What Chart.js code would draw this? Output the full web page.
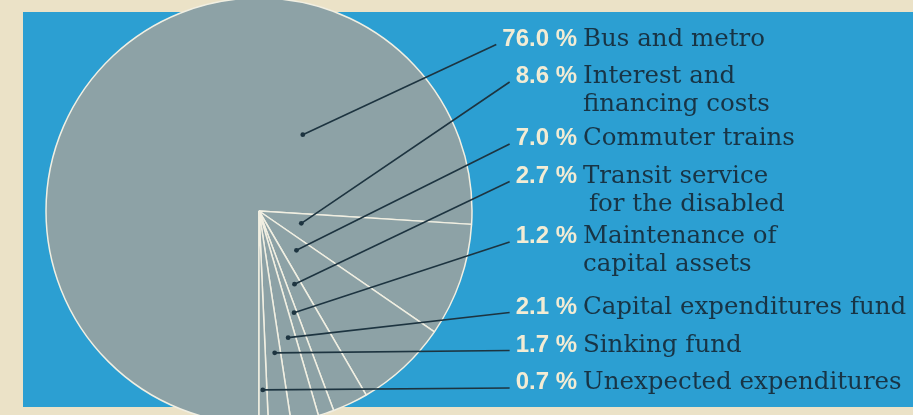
<!DOCTYPE html>
<html><head><meta charset="utf-8">
<script src="https://cdn.jsdelivr.net/npm/chart.js@4"></script>
<style>
html,body{margin:0;padding:0;background:#ebe2c7;}
#wrap{position:relative;width:913px;height:415px;overflow:hidden;background:#ebe2c7;}
#panel{position:absolute;left:23px;top:12px;width:890px;height:395px;background:#2c9fd2;}
#c{position:absolute;left:0;top:0;}
</style></head><body>
<div id="wrap"><div id="panel"></div><canvas id="c" width="913" height="415"></canvas></div>
<script>
// ---- data ----
const categories = [
  ['Bus and metro'],
  ['Interest and', 'financing costs'],
  ['Commuter trains'],
  ['Transit service', 'for the disabled'],
  ['Maintenance of', 'capital assets'],
  ['Capital expenditures fund'],
  ['Sinking fund'],
  ['Unexpected expenditures']
];
const shares = [76.0, 8.6, 7.0, 2.7, 1.2, 2.1, 1.7, 0.7];
const shareLabels = shares.map(v => v.toFixed(1) + ' %');

// ---- layout / style ----
const geo = { cx: 259, cy: 211, r: 213 };
const labelLayout = {
  pctRight: 577, textLeft: 583, lineGap: 28,
  baselines: [45.5, 83, 145, 182.5, 243, 313.5, 351.5, 389],
  indent2: [0, 0, 0, 6, 0, 0, 0, 0],
  anchorAngleFrac: [0.767, 0.41, 0.47, 0.45, 0.35, 0.43, 0.38, 0.52],
  anchorRadFrac: [0.413, 0.207, 0.255, 0.382, 0.505, 0.61, 0.67, 0.84]
};
const style = {
  pieFill: '#8da2a6', pieEdge: '#f1efe2', leader: '#1d3440',
  pctColor: '#f3ecd4', textColor: '#183445',
  pctFont: 'bold 24px "Liberation Sans", Arial, sans-serif',
  textFont: '24.5px "DejaVu Serif", serif'
};

const leaderPlugin = {
  id: 'leaders',
  afterDatasetsDraw(chart) {
    const ctx = chart.ctx;
    const meta = chart.getDatasetMeta(0);
    ctx.save();
    meta.data.forEach((arc, i) => {
      const p = arc.getProps(['x', 'y', 'startAngle', 'endAngle', 'outerRadius'], true);
      const a = p.startAngle + labelLayout.anchorAngleFrac[i] * (p.endAngle - p.startAngle);
      const rr = labelLayout.anchorRadFrac[i] * p.outerRadius;
      const ax = p.x + Math.cos(a) * rr, ay = p.y + Math.sin(a) * rr;
      const base = labelLayout.baselines[i];
      ctx.font = style.pctFont;
      const w = ctx.measureText(shareLabels[i]).width;
      const ex = labelLayout.pctRight - w - 6, ey = base - 1;
      ctx.strokeStyle = style.leader; ctx.lineWidth = 1.6;
      ctx.beginPath(); ctx.moveTo(ax, ay); ctx.lineTo(ex, ey); ctx.stroke();
      ctx.fillStyle = style.leader;
      ctx.beginPath(); ctx.arc(ax, ay, 2.4, 0, Math.PI * 2); ctx.fill();
      // percent
      ctx.fillStyle = style.pctColor; ctx.textAlign = 'right'; ctx.textBaseline = 'alphabetic';
      ctx.fillText(shareLabels[i], labelLayout.pctRight, base);
      // description
      ctx.font = style.textFont; ctx.fillStyle = style.textColor; ctx.textAlign = 'left';
      categories[i].forEach((line, k) => {
        const x = labelLayout.textLeft + (k > 0 ? labelLayout.indent2[i] : 0);
        ctx.fillText(line, x, base + k * labelLayout.lineGap);
      });
    });
    ctx.restore();
  }
};

new Chart(document.getElementById('c'), {
  type: 'pie',
  data: {
    labels: categories.map(l => l.join(' ')),
    datasets: [{
      data: shares,
      backgroundColor: style.pieFill,
      borderColor: style.pieEdge,
      borderWidth: 1.5,
      radius: geo.r,
      clip: false
    }]
  },
  options: {
    responsive: false,
    animation: false,
    rotation: 180,
    radius: geo.r,
    layout: { padding: { left: geo.cx - 203, right: 913 - (geo.cx + 203), top: geo.cy - 203, bottom: 415 - (geo.cy + 203) } },
    plugins: { legend: { display: false }, tooltip: { enabled: false } }
  },
  plugins: [leaderPlugin]
});
</script>
</body></html>
